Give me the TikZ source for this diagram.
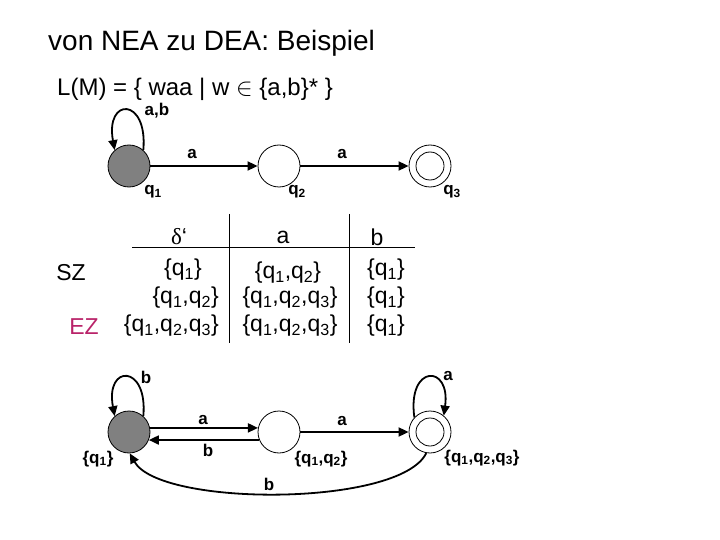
\documentclass[tikz,border=0pt]{standalone}
\usepackage{fontspec}
\setmainfont{Liberation Sans}
\newfontfamily\symfont{Liberation Serif}
\usetikzlibrary{arrows.meta}
\definecolor{ezcol}{RGB}{185,35,105}
\definecolor{startfill}{RGB}{128,128,128}
\begin{document}
\begin{tikzpicture}[x=1pt,y=1pt,
  state/.style={circle,draw,line width=0.8pt,minimum size=42pt,inner sep=0pt},
  startstate/.style={state,fill=startfill},
  lbl/.style={font=\bfseries\fontsize{17}{17}\selectfont,inner sep=0pt},
  edge/.style={line width=1.8pt,-{Triangle[length=10pt,width=9pt]}},
  tab/.style={font=\fontsize{23}{23}\selectfont,inner sep=0pt},
  rule/.style={line width=1pt}
]
\useasboundingbox (0,0) rectangle (720,-540);

% title
\node[anchor=west,inner sep=0pt,font=\fontsize{28}{28}\selectfont] (title) at (48,-43) {von NEA zu DEA: Beispiel};
\node[anchor=west,inner sep=0pt,font=\fontsize{24}{24}\selectfont] (lang) at (57,-89) {L(M) = \{ waa | w $\in$ \{a,b\}* \}};

% NFA
\node[startstate] (q1) at (129,-166) {};
\node[state] (q2) at (279,-166) {};
\node[state] (q3) at (430,-166) {};
\draw[line width=0.8pt] (q3.center) circle (14);
\draw[edge] (q1) -- (q2);
\draw[edge] (q2) -- (q3);
\draw[edge] (q1.48) .. controls (148,-97) and (105,-97) .. (q1.132);
\node[lbl] (lab1) at (157,-111) {a,b};
\node[lbl] (lab2) at (192,-154) {a};
\node[lbl] (lab3) at (342,-154) {a};
\node[lbl] (n1) at (153,-192) {q\textsubscript{1}};
\node[lbl] (n2) at (297,-192) {q\textsubscript{2}};
\node[lbl] (n3) at (452,-192) {q\textsubscript{3}};

% table
\coordinate (h1) at (132,-247);
\coordinate (h2) at (415,-247);
\coordinate (v1t) at (229,-214);
\coordinate (v1b) at (229,-343);
\coordinate (v2t) at (349,-214);
\coordinate (v2b) at (349,-343);
\draw[rule] (h1) -- (h2);
\draw[rule] (v1t) -- (v1b);
\draw[rule] (v2t) -- (v2b);
\node[tab] (hd) at (179,-237) {{\symfont δ}‘};
\node[tab] (ha) at (283,-237) {a};
\node[tab] (hb) at (377,-237) {b};
\node[tab] (sz) at (71,-273) {SZ};
\node[tab,text=ezcol] (ez) at (84,-327) {EZ};
\node[tab] (r1c1) at (183,-270) {\{q\textsubscript{1}\}};
\node[tab,anchor=east] (r2c1) at (219,-298) {\{q\textsubscript{1},q\textsubscript{2}\}};
\node[tab,anchor=east] (r3c1) at (219,-326) {\{q\textsubscript{1},q\textsubscript{2},q\textsubscript{3}\}};
\node[tab] (r1c2) at (288,-273) {\{q\textsubscript{1},q\textsubscript{2}\}};
\node[tab] (r2c2) at (290,-298) {\{q\textsubscript{1},q\textsubscript{2},q\textsubscript{3}\}};
\node[tab] (r3c2) at (290,-326) {\{q\textsubscript{1},q\textsubscript{2},q\textsubscript{3}\}};
\node[tab] (r1c3) at (386,-270) {\{q\textsubscript{1}\}};
\node[tab] (r2c3) at (386,-298) {\{q\textsubscript{1}\}};
\node[tab] (r3c3) at (386,-326) {\{q\textsubscript{1}\}};

% DFA
\node[startstate] (p1) at (129,-432) {};
\node[state] (p2) at (279,-432) {};
\node[state] (p3) at (430,-432) {};
\draw[line width=0.8pt] (p3.center) circle (14);
\draw[edge] (p1.11) -- (p2.169);
\draw[edge] (p2.-158) -- (p1.-22);
\draw[edge] (p2) -- (p3);
\draw[edge] (p1.48) .. controls (148,-364) and (105,-364) .. (p1.132);
\draw[edge] (p3.137) .. controls (407,-364) and (451,-364) .. (p3.50);
\draw[edge] (p3.-100) .. controls (400,-507) and (160,-507) .. (p1.-88);
\node[lbl] (m1) at (146,-377) {b};
\node[lbl] (m2) at (448,-376) {a};
\node[lbl] (m3) at (203,-420) {a};
\node[lbl] (m4) at (208,-450) {b};
\node[lbl] (m5) at (342,-421) {a};
\node[lbl] (m6) at (269,-484) {b};
\node[lbl] (s1) at (98,-459) {\{q\textsubscript{1}\}};
\node[lbl] (s2) at (321,-459) {\{q\textsubscript{1},q\textsubscript{2}\}};
\node[lbl] (s3) at (482,-458) {\{q\textsubscript{1},q\textsubscript{2},q\textsubscript{3}\}};
\end{tikzpicture}
\end{document}
